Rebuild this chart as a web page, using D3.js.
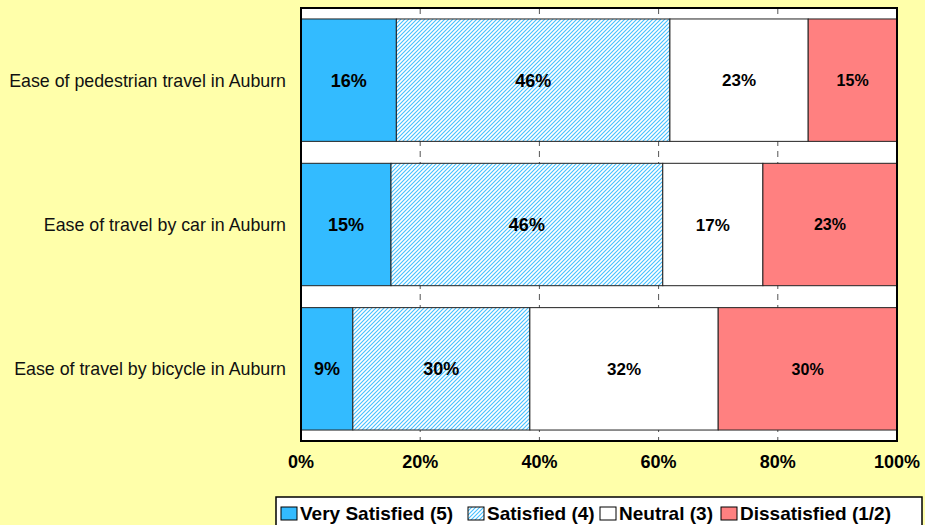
<!DOCTYPE html>
<html>
<head>
<meta charset="utf-8">
<script src="https://cdn.jsdelivr.net/npm/d3@7"></script>
<style>
  body { margin: 0; background: #FFFFAA; }
  svg { display: block; font-family: Arial, "Liberation Sans", sans-serif; }
</style>
</head>
<body>
<svg id="chart" width="925" height="525"></svg>
<script>
const categories = [
  'Ease of pedestrian travel in Auburn',
  'Ease of travel by car in Auburn',
  'Ease of travel by bicycle in Auburn'
]
const seriesNames = ['Very Satisfied (5)', 'Satisfied (4)', 'Neutral (3)', 'Dissatisfied (1/2)']
const verySatisfied = [16.0, 15.1, 8.7]
const satisfied = [45.9, 45.6, 29.7]
const neutral = [23.2, 16.8, 31.6]
const dissatisfied = [14.9, 22.5, 30.0]
const tickValues = [0, 20, 40, 60, 80, 100]

const fills = ['#33BBFF', 'url(#hatch)', '#FFFFFF', '#FF8080']
const labelSizes = [18, 18, 17, 16]

const svg = d3.select('#chart')

const defs = svg.append('defs')
const pat = defs.append('pattern')
  .attr('id', 'hatch')
  .attr('patternUnits', 'userSpaceOnUse')
  .attr('width', 4)
  .attr('height', 4)
pat.append('rect').attr('width', 4).attr('height', 4).attr('fill', '#fff')
pat.append('path')
  .attr('d', 'M-1,1 l2,-2 M0,4 l4,-4 M3,5 l2,-2')
  .attr('stroke', '#44C0FF')
  .attr('stroke-width', 1.1)

const plotLeft = 301, plotRight = 897, plotTop = 8, plotBottom = 441

const x = d3.scaleLinear().domain([0, 100]).range([plotLeft, plotRight])
const y = d3.scaleBand()
  .domain(categories)
  .range([plotTop, plotBottom])
  .paddingInner(0.152)
  .paddingOuter(0.076)

const rows = categories.map((c, i) => ({
  category: c,
  values: [verySatisfied[i], satisfied[i], neutral[i], dissatisfied[i]]
}))

const stack = d3.stack().keys([0, 1, 2, 3]).value((d, k) => d.values[k])
const stacked = stack(rows)

// plot background
svg.append('rect')
  .attr('x', plotLeft).attr('y', plotTop)
  .attr('width', plotRight - plotLeft).attr('height', plotBottom - plotTop)
  .attr('fill', '#fff')

// gridlines
svg.append('g')
  .selectAll('line')
  .data(tickValues.slice(1, -1))
  .enter()
  .append('line')
  .attr('x1', (d) => x(d)).attr('x2', (d) => x(d))
  .attr('y1', plotTop).attr('y2', plotBottom)
  .attr('stroke', '#555')
  .attr('stroke-width', 1)
  .attr('stroke-dasharray', '6,5')

// bars
const layers = svg.append('g')
  .selectAll('g')
  .data(stacked)
  .enter()
  .append('g')

layers.selectAll('rect')
  .data((s) => s.map((d) => ({ s: s.key, d })))
  .enter()
  .append('rect')
  .attr('x', (p) => x(p.d[0]))
  .attr('y', (p) => y(p.d.data.category))
  .attr('width', (p) => x(p.d[1]) - x(p.d[0]))
  .attr('height', y.bandwidth())
  .attr('fill', (p) => fills[p.s])
  .attr('stroke', '#222')
  .attr('stroke-width', 1)

layers.selectAll('text')
  .data((s) => s.map((d) => ({ s: s.key, d })))
  .enter()
  .append('text')
  .attr('x', (p) => (x(p.d[0]) + x(p.d[1])) / 2)
  .attr('y', (p) => y(p.d.data.category) + y.bandwidth() / 2)
  .attr('dy', '0.36em')
  .attr('text-anchor', 'middle')
  .attr('font-weight', 'bold')
  .attr('font-size', (p) => labelSizes[p.s])
  .attr('fill', '#000')
  .text((p) => Math.round(p.d[1] - p.d[0]) + '%')

// plot border
svg.append('rect')
  .attr('x', plotLeft).attr('y', plotTop)
  .attr('width', plotRight - plotLeft).attr('height', plotBottom - plotTop)
  .attr('fill', 'none')
  .attr('stroke', '#000')
  .attr('stroke-width', 2)

// category labels
svg.append('g')
  .selectAll('text')
  .data(categories)
  .enter()
  .append('text')
  .attr('x', 286)
  .attr('y', (d) => y(d) + y.bandwidth() / 2)
  .attr('dy', '0.36em')
  .attr('text-anchor', 'end')
  .attr('font-size', 17.8)
  .attr('fill', '#111')
  .text((d) => d)

// x axis tick labels
svg.append('g')
  .selectAll('text')
  .data(tickValues)
  .enter()
  .append('text')
  .attr('x', (d) => x(d))
  .attr('y', 462)
  .attr('dy', '0.36em')
  .attr('text-anchor', 'middle')
  .attr('font-weight', 'bold')
  .attr('font-size', 18)
  .text((d) => d + '%')

// legend
const legend = svg.append('g')
legend.append('rect')
  .attr('x', 276).attr('y', 497)
  .attr('width', 646).attr('height', 40)
  .attr('fill', '#fff')
  .attr('stroke', '#000')
  .attr('stroke-width', 1.5)

const legendX = [281, 468, 600, 721]
const items = legend.selectAll('g.item')
  .data(seriesNames)
  .enter()
  .append('g')
  .attr('class', 'item')
  .attr('transform', (d, i) => `translate(${legendX[i]},507)`)

items.append('rect')
  .attr('width', 16).attr('height', 13)
  .attr('fill', (d, i) => fills[i])
  .attr('stroke', '#000')
  .attr('stroke-width', 1)

items.append('text')
  .attr('x', 19)
  .attr('y', 6.5)
  .attr('dy', '0.36em')
  .attr('font-weight', 'bold')
  .attr('font-size', 19)
  .text((d) => d)
</script>
</body>
</html>
